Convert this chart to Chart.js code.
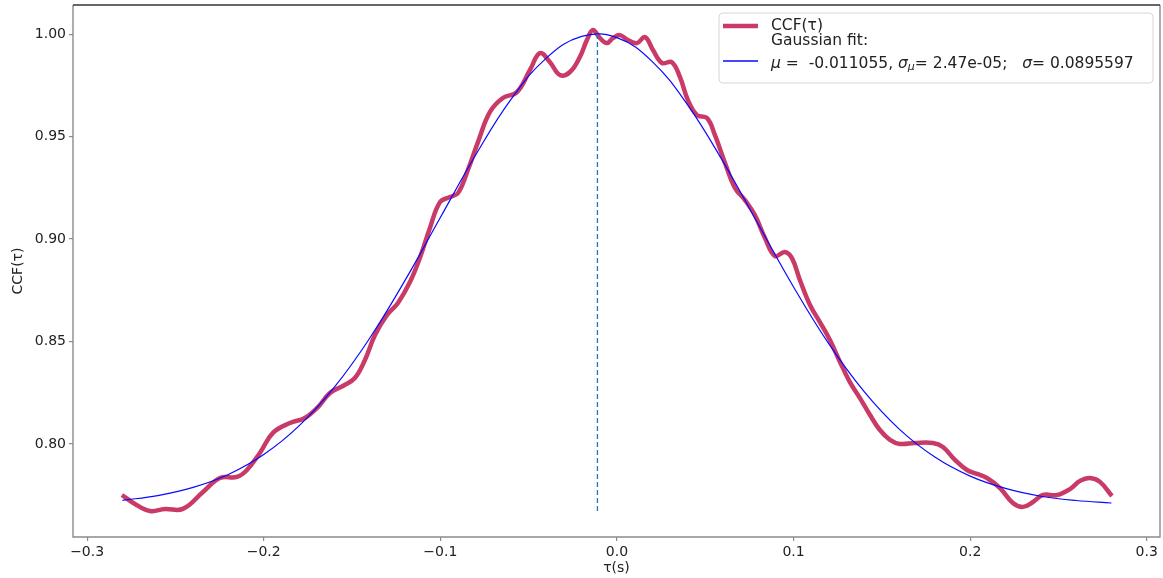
<!DOCTYPE html>
<html>
<head>
<meta charset="utf-8">
<script src="https://cdn.jsdelivr.net/npm/chart.js@4.4.0/dist/chart.umd.min.js"></script>
<style>
  html, body { margin: 0; padding: 0; background: #ffffff; }
  #wrap { width: 1163px; height: 578px; }
</style>
</head>
<body>
<div id="wrap"><canvas id="c" width="1163" height="578"></canvas></div>
<script>
// Cross-correlation function versus lag (s)
const tau = [-0.2803, -0.2729, -0.2644, -0.2559, -0.2458, -0.2344, -0.2248, -0.2152, -0.2095, -0.2022,
  -0.1948, -0.1852, -0.1767, -0.1693, -0.1625, -0.1552, -0.1484, -0.1427, -0.1370, -0.1302,
  -0.1240, -0.1172, -0.1116, -0.1059, -0.1002, -0.0946, -0.0900, -0.0844, -0.0787, -0.0719,
  -0.0646, -0.0566, -0.0493, -0.0436, -0.0379, -0.0323, -0.0266, -0.0210, -0.0170, -0.0136,
  -0.0096, -0.0057, -0.0023, 0.0017, 0.0062, 0.0113, 0.0159, 0.0204, 0.0255, 0.0311,
  0.0357, 0.0402, 0.0453, 0.0510, 0.0555, 0.0612, 0.0668, 0.0725, 0.0781, 0.0838,
  0.0895, 0.0951, 0.0991, 0.1036, 0.1093, 0.1149, 0.1206, 0.1263, 0.1319, 0.1376,
  0.1433, 0.1489, 0.1546, 0.1602, 0.1687, 0.1789, 0.1846, 0.1914, 0.1982, 0.2039,
  0.2095, 0.2169, 0.2242, 0.2299, 0.2356, 0.2412, 0.2492, 0.2565, 0.2622, 0.2678,
  0.2735, 0.2803];
const ccf = [0.7751, 0.7707, 0.7673, 0.7683, 0.7683, 0.7766, 0.7834, 0.7839, 0.7873, 0.7956,
  0.8054, 0.8102, 0.8127, 0.8180, 0.8249, 0.8283, 0.8322, 0.8410, 0.8532, 0.8629,
  0.8688, 0.8790, 0.8907, 0.9054, 0.9180, 0.9205, 0.9224, 0.9337, 0.9473, 0.9620,
  0.9688, 0.9717, 0.9824, 0.9907, 0.9863, 0.9800, 0.9815, 0.9888, 0.9971, 1.0020,
  0.9980, 0.9956, 0.9980, 0.9995, 0.9971, 0.9956, 0.9985, 0.9922, 0.9859, 0.9863,
  0.9790, 0.9678, 0.9605, 0.9590, 0.9507, 0.9371, 0.9249, 0.9190, 0.9117, 0.9005,
  0.8917, 0.8937, 0.8907, 0.8800, 0.8678, 0.8595, 0.8507, 0.8400, 0.8302, 0.8224,
  0.8141, 0.8068, 0.8020, 0.8000, 0.8005, 0.8005, 0.7985, 0.7922, 0.7873, 0.7854,
  0.7834, 0.7785, 0.7712, 0.7693, 0.7717, 0.7751, 0.7751, 0.7780, 0.7820, 0.7834,
  0.7815, 0.7746];

// Gaussian fit curve
const fitTau = [-0.28, -0.26, -0.24, -0.22, -0.20, -0.18, -0.16, -0.14, -0.12, -0.10,
  -0.08, -0.06, -0.04, -0.02, 0.00, 0.02, 0.04, 0.06, 0.08, 0.10,
  0.12, 0.14, 0.16, 0.18, 0.20, 0.22, 0.24, 0.26, 0.28];
const fitValues = [0.7725, 0.7748, 0.7788, 0.7851, 0.7948, 0.8088, 0.8277, 0.8516, 0.8798, 0.9105,
  0.9410, 0.9681, 0.9883, 0.9989, 0.9983, 0.9866, 0.9655, 0.9379, 0.9072, 0.8766,
  0.8488, 0.8255, 0.8071, 0.7936, 0.7843, 0.7783, 0.7745, 0.7724, 0.7712];
const fitMu = -0.011055;
const fitMuErr = 2.47e-05;
const fitSigma = 0.0895597;

// Axis ticks
const xTicks = [-0.3, -0.2, -0.1, 0.0, 0.1, 0.2, 0.3];
const yTicks = [0.80, 0.85, 0.90, 0.95, 1.00];

const FONT = '"DejaVu Sans", "Liberation Sans", sans-serif';
const CCF_COLOR = '#c93a67';
const FIT_COLOR = '#0a0aff';
const VLINE_COLOR = '#1f77b4';

function pairs(xs, ys) { return xs.map((x, i) => ({ x: x, y: ys[i] })); }

function expFormat(v) {
  const [m, e] = v.toExponential(2).split('e');
  const sign = e[0] === '-' ? '-' : '+';
  const digits = e.replace(/[+-]/, '').padStart(2, '0');
  return m + 'e' + sign + digits;
}

// frame around the plotting area
const framePlugin = {
  id: 'frame',
  afterDatasetsDraw(chart) {
    const { ctx, chartArea: a } = chart;
    ctx.save();
    ctx.lineWidth = 1.4;
    ctx.strokeStyle = '#8c8c8c';
    ctx.beginPath();
    ctx.moveTo(a.left, a.top); ctx.lineTo(a.left, a.bottom);
    ctx.lineTo(a.right, a.bottom); ctx.lineTo(a.right, a.top);
    ctx.stroke();
    ctx.strokeStyle = '#333333';
    ctx.beginPath();
    ctx.moveTo(a.left, a.top); ctx.lineTo(a.right, a.top);
    ctx.stroke();
    ctx.restore();
  }
};

// legend box with the fit parameters
const legendPlugin = {
  id: 'fitLegend',
  afterDraw(chart) {
    const ctx = chart.ctx;
    const x0 = 719, y0 = 13, w = 434, h = 70, r = 4;
    ctx.save();
    ctx.beginPath();
    ctx.moveTo(x0 + r, y0);
    ctx.arcTo(x0 + w, y0, x0 + w, y0 + h, r);
    ctx.arcTo(x0 + w, y0 + h, x0, y0 + h, r);
    ctx.arcTo(x0, y0 + h, x0, y0, r);
    ctx.arcTo(x0, y0, x0 + w, y0, r);
    ctx.closePath();
    ctx.fillStyle = 'rgba(255,255,255,0.85)';
    ctx.fill();
    ctx.strokeStyle = '#d6d6d6';
    ctx.lineWidth = 1;
    ctx.stroke();

    // handles
    ctx.lineCap = 'butt';
    ctx.strokeStyle = CCF_COLOR;
    ctx.lineWidth = 4.5;
    ctx.beginPath(); ctx.moveTo(723, 26); ctx.lineTo(758, 26); ctx.stroke();
    ctx.strokeStyle = FIT_COLOR;
    ctx.lineWidth = 1.3;
    ctx.beginPath(); ctx.moveTo(723, 61); ctx.lineTo(758, 61); ctx.stroke();

    // labels
    ctx.fillStyle = '#222222';
    ctx.textBaseline = 'middle';
    ctx.textAlign = 'left';
    const normal = '15.5px ' + FONT;
    const italic = 'italic 15.5px ' + FONT;
    const sub = 'italic 11px ' + FONT;
    ctx.font = normal;
    ctx.fillText('CCF(\u03c4)', 771, 26);
    ctx.fillText('Gaussian fit:', 771, 41);
    const runs = [
      { t: '\u03bc', f: italic },
      { t: ' =  ' + String(fitMu) + ', ', f: normal },
      { t: '\u03c3', f: italic },
      { t: '\u03bc', f: sub, dy: 3 },
      { t: '= ' + expFormat(fitMuErr) + ';   ', f: normal },
      { t: '\u03c3', f: italic },
      { t: '= ' + String(fitSigma), f: normal }
    ];
    let x = 771;
    for (const run of runs) {
      ctx.font = run.f;
      ctx.fillText(run.t, x, 64 + (run.dy || 0));
      x += ctx.measureText(run.t).width;
    }
    ctx.restore();
  }
};

const ccfMin = Math.min(...ccf);

function noEdgePadding(scale) {
  scale.paddingTop = 0;
  scale.paddingBottom = 0;
  scale.paddingLeft = 0;
  scale.paddingRight = 0;
}

new Chart(document.getElementById('c'), {
  type: 'line',
  data: {
    datasets: [
      {
        label: 'CCF(\u03c4)',
        data: pairs(tau, ccf),
        borderColor: CCF_COLOR,
        borderWidth: 4.5,
        pointRadius: 0,
        tension: 0.4,
        fill: false,
        order: 3
      },
      {
        label: 'Gaussian fit',
        data: pairs(fitTau, fitValues),
        borderColor: FIT_COLOR,
        borderWidth: 1.2,
        pointRadius: 0,
        tension: 0.4,
        fill: false,
        order: 2
      },
      {
        label: 'mu',
        data: [{ x: fitMu, y: ccfMin }, { x: fitMu, y: 1.0 }],
        borderColor: VLINE_COLOR,
        borderWidth: 1.3,
        borderDash: [5, 3],
        pointRadius: 0,
        fill: false,
        order: 1
      }
    ]
  },
  options: {
    responsive: false,
    devicePixelRatio: 1,
    animation: false,
    layout: { padding: { top: 5, right: 3, left: 0, bottom: 0 } },
    plugins: {
      legend: { display: false },
      tooltip: { enabled: false },
      title: { display: false }
    },
    scales: {
      x: {
        type: 'linear',
        min: -0.308,
        max: 0.3075,
        afterBuildTicks(scale) { scale.ticks = xTicks.map(v => ({ value: v })); },
        afterFit(scale) { scale.height = 41; noEdgePadding(scale); },
        border: { display: false },
        grid: { display: true, drawOnChartArea: false, drawTicks: true, tickLength: 4, color: '#8c8c8c', lineWidth: 1.2 },
        ticks: {
          autoSkip: false, maxRotation: 0, padding: 3, color: '#222222',
          font: { family: FONT, size: 14 },
          callback: v => Number(v).toFixed(1).replace('-', '\u2212')
        },
        title: { display: true, text: '\u03c4(s)', color: '#222222', font: { family: FONT, size: 14 }, padding: { top: 0, bottom: 1 } }
      },
      y: {
        type: 'linear',
        min: 0.7546,
        max: 1.0142,
        afterBuildTicks(scale) { scale.ticks = yTicks.map(v => ({ value: v })); },
        afterFit(scale) { scale.width = 73; noEdgePadding(scale); },
        border: { display: false },
        grid: { display: true, drawOnChartArea: false, drawTicks: true, tickLength: 4, color: '#8c8c8c', lineWidth: 1.2 },
        ticks: {
          autoSkip: false, padding: 3, color: '#222222',
          font: { family: FONT, size: 14 },
          callback: v => Number(v).toFixed(2)
        },
        title: { display: true, text: 'CCF(\u03c4)', color: '#222222', font: { family: FONT, size: 14 }, padding: { top: 10, bottom: 0 } }
      }
    }
  },
  plugins: [framePlugin, legendPlugin]
});
</script>
</body>
</html>
